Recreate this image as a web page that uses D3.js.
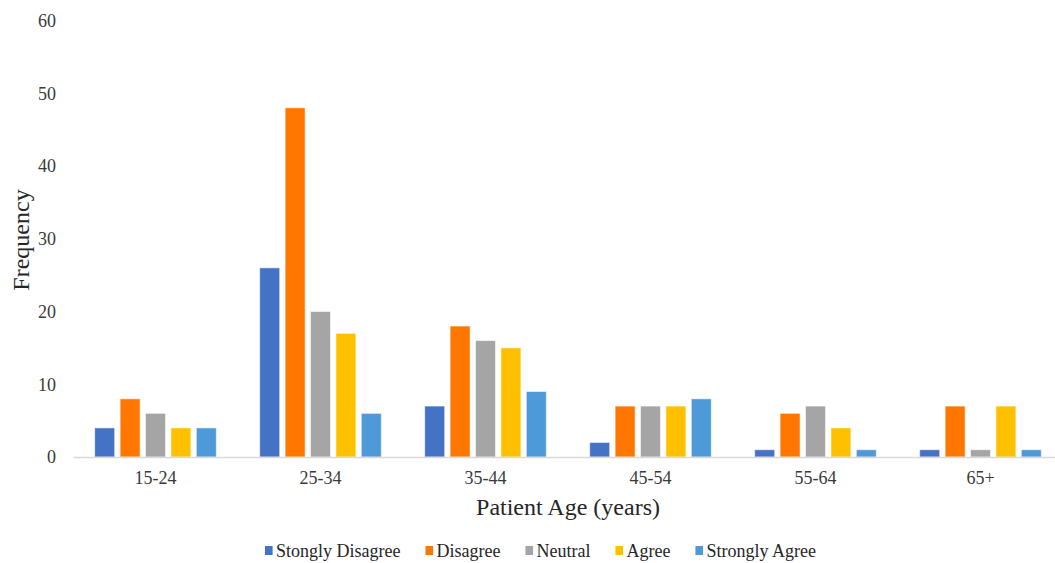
<!DOCTYPE html>
<html>
<head>
<meta charset="utf-8">
<script src="https://cdn.jsdelivr.net/npm/d3@7"></script>
<style>
  html, body { margin: 0; padding: 0; background: #fff; }
  svg { display: block; }
  text { font-family: "Liberation Serif", "Times New Roman", serif; }
</style>
</head>
<body>
<svg id="chart" width="1055" height="563"></svg>
<script>
// Age groups along the x axis
const ageGroups = ["15-24", "25-34", "35-44", "45-54", "55-64", "65+"];

// Response categories (legend order)
const responses = ["Stongly Disagree", "Disagree", "Neutral", "Agree", "Strongly Agree"];

// Frequency per response, one value per age group
const stronglyDisagree = [4, 26, 7, 2, 1, 1];
const disagree         = [8, 48, 18, 7, 6, 7];
const neutral          = [6, 20, 16, 7, 7, 1];
const agree            = [4, 17, 15, 7, 4, 7];
const stronglyAgree    = [4, 6, 9, 8, 1, 1];

// Y axis ticks
const yTicks = [0, 10, 20, 30, 40, 50, 60];

const seriesValues = [stronglyDisagree, disagree, neutral, agree, stronglyAgree];
const colors = ["#4472C4", "#FF7700", "#A5A5A5", "#FFC000", "#4E9AD8"];

const svg = d3.select("#chart");

const plotLeft = 73, plotRight = 1063, plotTop = 20.5, plotBottom = 457;

const x0 = d3.scaleBand()
  .domain(ageGroups)
  .range([plotLeft, plotRight])
  .paddingInner(0.263)
  .paddingOuter(0.1315);

const x1 = d3.scaleBand()
  .domain(responses)
  .range([0, x0.bandwidth()])
  .paddingInner(0.213);

const y = d3.scaleLinear()
  .domain([0, 60])
  .range([plotBottom, plotTop]);

const color = d3.scaleOrdinal().domain(responses).range(colors);

// Y axis labels (no axis line, no ticks)
const yAxis = svg.append("g")
  .attr("transform", `translate(${plotLeft},0)`)
  .call(d3.axisLeft(y).tickValues(yTicks).tickSize(0).tickPadding(17));
yAxis.select(".domain").remove();
yAxis.selectAll("text")
  .attr("font-size", 18)
  .attr("fill", "#3a3a3a");

// Bars
const groups = svg.append("g")
  .selectAll("g")
  .data(ageGroups)
  .join("g")
  .attr("transform", d => `translate(${x0(d)},0)`);

groups.selectAll("rect")
  .data((d, i) => responses.map((r, s) => ({ response: r, value: seriesValues[s][i] })))
  .join("rect")
  .attr("x", d => x1(d.response))
  .attr("y", d => y(d.value))
  .attr("width", x1.bandwidth())
  .attr("height", d => y(0) - y(d.value))
  .attr("fill", d => color(d.response))
  .attr("stroke", "#ffffff")
  .attr("stroke-opacity", 0.55)
  .attr("stroke-width", 1);

// X axis baseline and category labels
const xAxis = svg.append("g")
  .attr("transform", `translate(0,${plotBottom})`)
  .call(d3.axisBottom(x0).tickSize(0).tickPadding(14));
xAxis.select(".domain")
  .attr("stroke", "#d9d9d9")
  .attr("stroke-width", 1.5);
xAxis.selectAll("text")
  .attr("font-size", 18)
  .attr("fill", "#3a3a3a");

// Axis titles
svg.append("text")
  .attr("x", (plotLeft + plotRight) / 2)
  .attr("y", 515)
  .attr("text-anchor", "middle")
  .attr("font-size", 24)
  .attr("fill", "#262626")
  .text("Patient Age (years)");

svg.append("text")
  .attr("transform", "translate(29,240) rotate(-90)")
  .attr("text-anchor", "middle")
  .attr("font-size", 24)
  .attr("fill", "#262626")
  .text("Frequency");

// Legend
const legend = svg.append("g").attr("transform", "translate(265,0)");
let lx = 0;
responses.forEach((r, i) => {
  const item = legend.append("g").attr("transform", `translate(${lx},0)`);
  item.append("rect")
    .attr("x", 0).attr("y", 546)
    .attr("width", 7.6).attr("height", 9)
    .attr("fill", colors[i]);
  const t = item.append("text")
    .attr("x", 11).attr("y", 557)
    .attr("font-size", 18)
    .attr("fill", "#262626")
    .text(r);
  lx += 11 + t.node().getComputedTextLength() + 25;
});
</script>
</body>
</html>
